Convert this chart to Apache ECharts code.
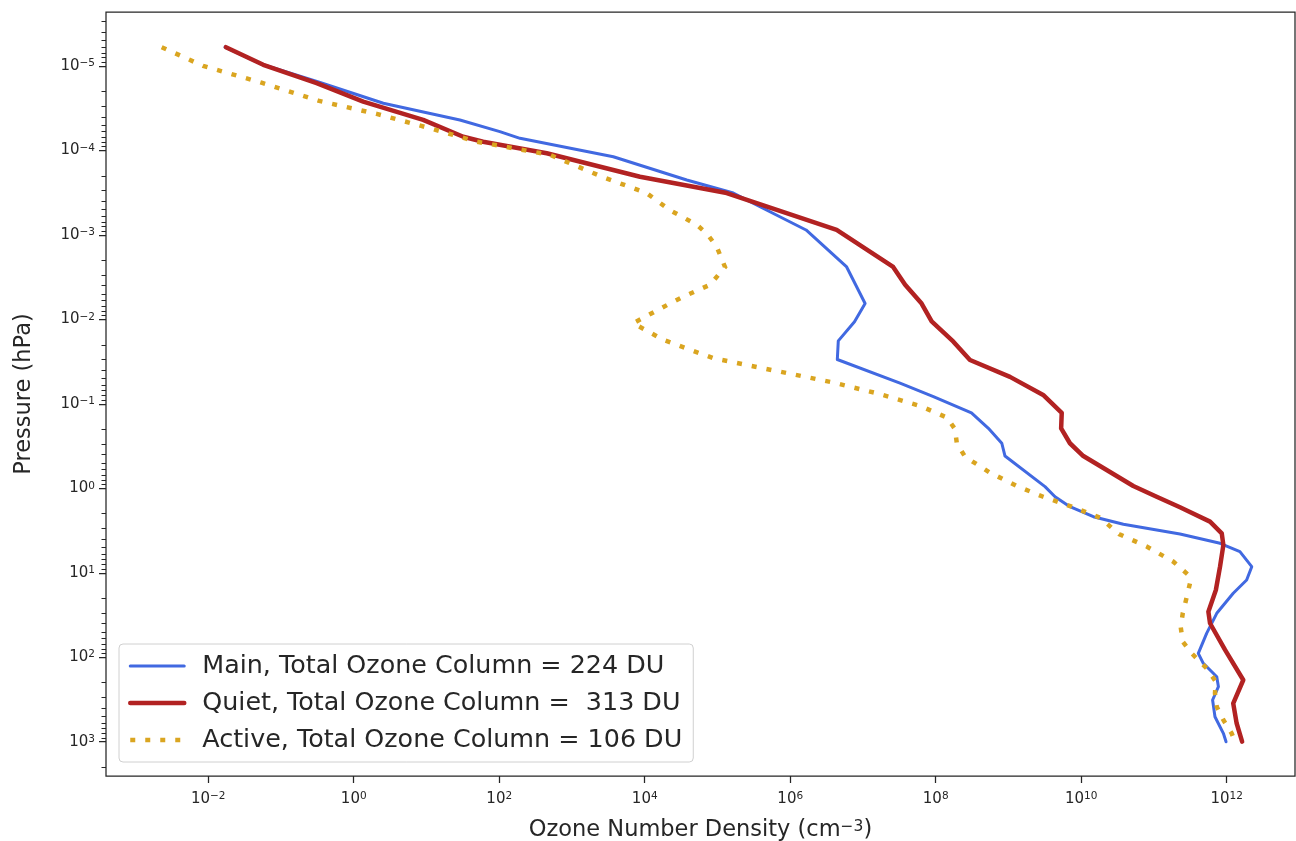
<!DOCTYPE html>
<html>
<head>
<meta charset="utf-8">
<script src="https://cdn.jsdelivr.net/npm/echarts@6/dist/echarts.min.js"></script>
<style>
  html, body { margin: 0; padding: 0; background: #ffffff; }
  #chart { width: 1296px; height: 841px; }
</style>
</head>
<body>
<div id="chart"></div>
<script>
// Ozone number density profiles (cm^-3) against pressure (hPa) for three model states.
const mainDensity = [1.7e-2, 5.7e-2, 0.344, 2.55, 28.8, 102, 193, 3.7e3, 3.78e4, 1.65e5, 7.2e5, 1.65e6,
  5.97e6, 1.07e7, 7.65e6, 4.58e6, 4.44e6, 3.23e7, 9.3e7, 3.1e8, 5.3e8, 8.1e8, 8.97e8, 3.18e9, 4.37e9,
  7.0e9, 1.47e10, 3.8e10, 2.28e11, 8.1e11, 1.52e12, 2.21e12, 1.88e12, 1.23e12, 7.3e11, 5.3e11, 4.07e11,
  4.77e11, 7.3e11, 7.7e11, 6.4e11, 6.9e11, 9.0e11, 9.8e11];
const mainPressure = [6.0e-6, 9.7e-6, 1.57e-5, 2.77e-5, 4.36e-5, 6.0e-5, 7.2e-5, 1.19e-4, 2.24e-4, 3.2e-4,
  6.1e-4, 8.75e-4, 2.4e-3, 6.5e-3, 1.07e-2, 1.8e-2, 2.99e-2, 5.7e-2, 8.2e-2, 0.128, 0.195, 0.293, 0.415,
  0.957, 1.26, 1.65, 2.17, 2.67, 3.48, 4.48, 5.63, 8.47, 12.2, 17.5, 30.2, 52.1, 89.9, 118, 170, 223, 321,
  506, 796, 1000];

const quietDensity = [1.75e-2, 5.7e-2, 0.309, 1.35, 9.0, 32, 60, 450, 8.6e3, 1.34e5, 7.2e5, 4.35e6, 2.6e7,
  3.8e7, 6.4e7, 8.8e7, 1.75e8, 2.96e8, 1.05e9, 3.0e9, 5.4e9, 5.3e9, 7.0e9, 1.07e10, 2.24e10, 5.2e10,
  1.09e11, 2.28e11, 5.9e11, 8.55e11, 9.0e11, 8.1e11, 7.1e11, 5.6e11, 5.9e11, 9.5e11, 1.69e12, 1.23e12,
  1.37e12, 1.63e12];
const quietPressure = [6.0e-6, 9.7e-6, 1.6e-5, 2.65e-5, 4.36e-5, 6.9e-5, 7.9e-5, 1.08e-4, 2.05e-4, 3.2e-4,
  5.2e-4, 8.75e-4, 2.4e-3, 3.9e-3, 6.5e-3, 1.06e-2, 1.84e-2, 3.03e-2, 4.8e-2, 7.85e-2, 0.128, 0.195, 0.293,
  0.415, 0.607, 0.94, 1.26, 1.68, 2.48, 3.41, 4.69, 8.47, 16.0, 28.9, 39.6, 82, 186, 352, 605, 1000];

const activeDensity = [2.29e-3, 8.5e-3, 5.4e-2, 0.325, 2.07, 12.4, 49, 74.6, 499, 2.69e3, 1.06e4, 2.22e4,
  5.2e4, 7.2e4, 9.75e4, 1.27e5, 7.9e4, 3.39e4, 2.22e4, 6.96e3, 1.8e4, 8.8e4, 7.2e5, 3.9e6, 1.55e7, 6.1e7,
  1.42e8, 1.84e8, 1.95e8, 2.53e8, 5.57e8, 1.3e9, 3.0e9, 7.4e9, 1.82e10, 3.3e10, 7.96e10, 1.85e11, 2.97e11,
  3.13e11, 2.76e11, 2.49e11, 2.33e11, 2.49e11, 3.3e11, 5.3e11, 7.1e11, 6.9e11, 7.3e11, 9.0e11, 1.17e12, 1.3e12];
const activePressure = [6.0e-6, 1.0e-5, 1.58e-5, 2.58e-5, 3.7e-5, 5.6e-5, 7.9e-5, 8.4e-5, 1.13e-4, 2.08e-4,
  3.2e-4, 5.1e-4, 7.6e-4, 9.75e-4, 1.38e-3, 2.4e-3, 3.9e-3, 5.4e-3, 6.5e-3, 1.11e-2, 1.75e-2, 2.89e-2,
  4.16e-2, 5.6e-2, 7.5e-2, 0.106, 0.145, 0.199, 0.293, 0.423, 0.653, 0.94, 1.26, 1.65, 2.23, 3.48, 4.89,
  7.4, 10.6, 13.3, 21.0, 30.2, 43.5, 65.5, 89.9, 135, 195, 267, 385, 553, 796, 1000];

const seriesNames = [
  'Main, Total Ozone Column = 224 DU',
  'Quiet, Total Ozone Column =  313 DU',
  'Active, Total Ozone Column = 106 DU'
];

// Axis ranges and tick positions
const xRange = [3.93e-4, 8.69e12];
const yRange = [2.30e-6, 2547];
const xTickValues = [1e-2, 1, 1e2, 1e4, 1e6, 1e8, 1e10, 1e12];
const yTickValues = [1e-5, 1e-4, 1e-3, 1e-2, 1e-1, 1, 1e1, 1e2, 1e3];

// Minor ticks at 2..9 within each pressure decade
const yMinorTickValues = [];
for (let k = -6; k <= 3; k++) {
  for (let m = 2; m <= 9; m++) {
    const v = m * Math.pow(10, k);
    if (v > yRange[0] && v < yRange[1]) yMinorTickValues.push(v);
  }
}

const FONT = 'DejaVu Sans';
const INK = '#262626';

function pairs(xs, ys) {
  return xs.map((x, i) => [x, ys[i]]);
}

function powerLabel(v) {
  const e = Math.round(Math.log10(v));
  return '{b|10}{e|' + String(e).replace('-', '\u2212') + '}';
}

const tickRich = {
  b: { fontSize: 15, lineHeight: 16, fontFamily: FONT, color: INK },
  e: { fontSize: 10.5, lineHeight: 8, verticalAlign: 'top', fontFamily: FONT, color: INK }
};

const chart = echarts.init(document.getElementById('chart'), null, { renderer: 'canvas' });

chart.setOption({
  animation: false,
  backgroundColor: '#ffffff',
  textStyle: { fontFamily: FONT },
  grid: {
    left: 106, right: 1, top: 12, bottom: 65,
    containLabel: false,
    outerBoundsMode: 'none',
    show: true, borderColor: INK, borderWidth: 1.25, backgroundColor: 'transparent'
  },
  legend: {
    orient: 'vertical',
    left: 119, top: 644,
    padding: [7, 11, 7, 9],
    itemWidth: 54, itemHeight: 14, itemGap: 7,
    backgroundColor: 'rgba(255,255,255,0.8)',
    borderColor: '#d0d0d0', borderWidth: 1, borderRadius: 4,
    selectedMode: false,
    itemStyle: { opacity: 0 },
    lineStyle: { width: 'inherit', type: 'inherit' },
    textStyle: { fontSize: 25.4, lineHeight: 30, color: INK, fontFamily: FONT, padding: [0, 0, 0, 13] },
    data: seriesNames
  },
  xAxis: {
    type: 'log',
    min: xRange[0], max: xRange[1],
    name: 'Ozone Number Density (cm{sup|\u22123})',
    nameLocation: 'middle', nameGap: 43,
    nameTextStyle: {
      fontSize: 22.5, color: INK, fontFamily: FONT,
      rich: { sup: { fontSize: 15.5, lineHeight: 12, verticalAlign: 'top', color: INK, fontFamily: FONT } }
    },
    axisLine: { show: false },
    splitLine: { show: false },
    minorTick: { show: false },
    axisTick: { show: true, length: 7, customValues: xTickValues, lineStyle: { color: INK, width: 1.25 } },
    axisLabel: { customValues: xTickValues, margin: 15, formatter: powerLabel, rich: tickRich }
  },
  yAxis: [{
    type: 'log',
    inverse: true,
    min: yRange[0], max: yRange[1],
    position: 'left',
    name: 'Pressure (hPa)',
    nameLocation: 'middle', nameGap: 70,
    nameTextStyle: { fontSize: 22.5, color: INK, fontFamily: FONT },
    axisLine: { show: false },
    splitLine: { show: false },
    axisTick: { show: true, length: 7, customValues: yTickValues, lineStyle: { color: INK, width: 1.25 } },
    axisLabel: { customValues: yTickValues, margin: 11, formatter: powerLabel, rich: tickRich }
  }, {
    type: 'log',
    inverse: true,
    min: yRange[0], max: yRange[1],
    position: 'left', offset: 0,
    axisLine: { show: false },
    splitLine: { show: false },
    axisLabel: { show: false },
    axisTick: { show: true, length: 4.5, customValues: yMinorTickValues, lineStyle: { color: INK, width: 1 } }
  }],
  series: [{
    name: seriesNames[0],
    type: 'line',
    data: pairs(mainDensity, mainPressure),
    symbol: 'none',
    lineStyle: { color: '#4169e1', width: 3, join: 'round', cap: 'round' },
    itemStyle: { color: '#4169e1' },
    z: 2
  }, {
    name: seriesNames[1],
    type: 'line',
    data: pairs(quietDensity, quietPressure),
    symbol: 'none',
    lineStyle: { color: '#b22222', width: 4.5, join: 'round', cap: 'round' },
    itemStyle: { color: '#b22222' },
    z: 3
  }, {
    name: seriesNames[2],
    type: 'line',
    data: pairs(activeDensity, activePressure),
    symbol: 'none',
    lineStyle: { color: '#daa520', width: 4.5, type: [5, 10], cap: 'butt', join: 'miter' },
    itemStyle: { color: '#daa520' },
    z: 4
  }]
});
</script>
</body>
</html>
